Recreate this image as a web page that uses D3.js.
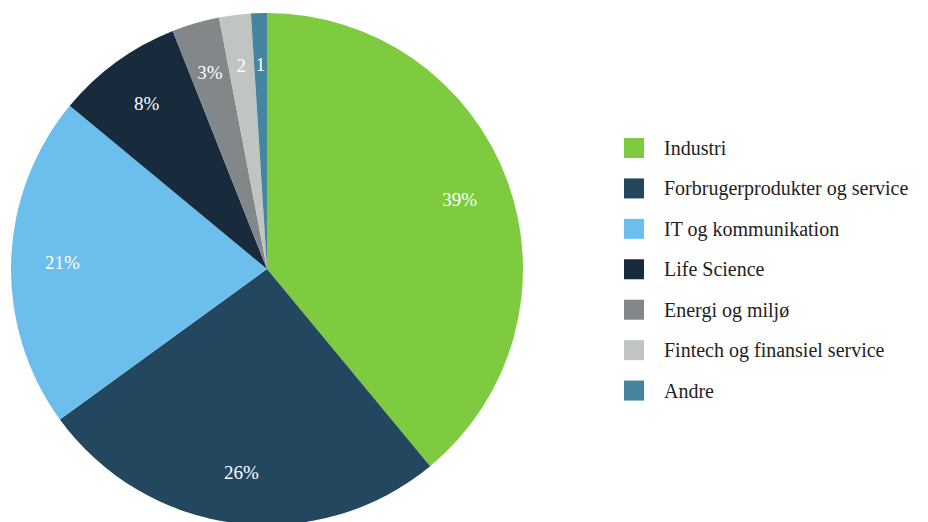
<!DOCTYPE html>
<html>
<head>
<meta charset="utf-8">
<script src="https://cdn.jsdelivr.net/npm/d3@7"></script>
<style>
  html, body { margin: 0; padding: 0; background: #fff; }
</style>
</head>
<body>
<div id="chart"></div>
<script>
const categories = ['Industri', 'Forbrugerprodukter og service', 'IT og kommunikation', 'Life Science', 'Energi og miljø', 'Fintech og finansiel service', 'Andre'];
const values = [39, 26, 21, 8, 3, 2, 1];
const labels = ['39%', '26%', '21%', '8%', '3%', '2', '1'];
const colors = ['#7fcb3f', '#244760', '#6cbfec', '#172b3d', '#82878a', '#c1c5c1', '#4585a0'];

const width = 928, height = 522;
const cx = 267, cy = 269, radius = 256;
const serif = '"Times New Roman", Times, "Liberation Serif", Tinos, "Noto Serif", "DejaVu Serif", serif';

const svg = d3.select('#chart').append('svg')
  .attr('width', width)
  .attr('height', height);

const pie = d3.pie().sort(null).value((d) => d.value);
const arcs = pie(categories.map((c, i) => ({ name: c, value: values[i], label: labels[i], color: colors[i] })));

const arc = d3.arc().innerRadius(0).outerRadius(radius);
const labelArc = d3.arc().innerRadius(radius * 0.8).outerRadius(radius * 0.8);

const g = svg.append('g').attr('transform', `translate(${cx},${cy})`);

g.selectAll('path')
  .data(arcs)
  .join('path')
  .attr('d', arc)
  .attr('fill', (d) => d.data.color);

g.selectAll('text')
  .data(arcs)
  .join('text')
  .attr('transform', (d) => `translate(${labelArc.centroid(d)})`)
  .attr('text-anchor', 'middle')
  .attr('dy', '0.35em')
  .attr('fill', '#fff')
  .style('font-family', serif)
  .attr('font-size', '19px')
  .text((d) => d.data.label);

// legend
const legend = svg.append('g').attr('transform', 'translate(624,138)');
const rowY = d3.scaleBand().domain(categories).range([0, 283]);

const row = legend.selectAll('g')
  .data(categories)
  .join('g')
  .attr('transform', (d) => `translate(0,${rowY(d)})`);

row.append('rect')
  .attr('width', 20)
  .attr('height', 20)
  .attr('fill', (d, i) => colors[i]);

row.append('text')
  .attr('x', 40)
  .attr('y', 10)
  .attr('dy', '0.35em')
  .attr('fill', '#222')
  .style('font-family', serif)
  .attr('font-size', '20px')
  .text((d) => d);
</script>
</body>
</html>
